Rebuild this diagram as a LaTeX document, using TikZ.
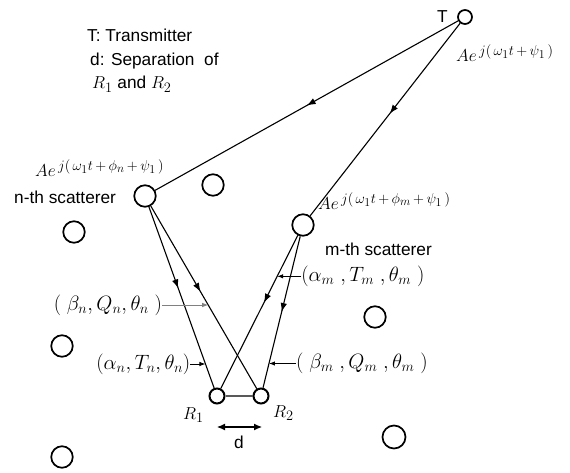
\documentclass[tikz,border=0pt]{standalone}
\usepackage{fontspec}
\setmainfont{Liberation Sans}
\usetikzlibrary{arrows.meta, decorations.markings, calc}
\DeclareMathSizes{17.28}{17.28}{14.4}{12}
\DeclareMathSizes{20.74}{20.74}{14.4}{12}

\begin{document}
\begin{tikzpicture}[x=1pt, y=-1pt,
  scat/.style={circle, draw, line width=1.7pt, inner sep=0pt, minimum size=#1},
  scat/.default=21.5pt,
  ray/.style={line width=1.1pt},
  midarrow/.style={postaction={decorate}, decoration={markings,
      mark=at position #1 with {\arrow{Latex[length=9pt, width=6.5pt]}}}},
  pointer/.style={line width=0.9pt, -{Latex[length=6pt, width=4.5pt]}},
  txt/.style={inner sep=0pt, anchor=base west, font=\LARGE},
  tri/.style={inner sep=0pt, font=\huge}]
  \useasboundingbox (0,0) rectangle (570,473);

  % transmitter, scatterers, receivers
  \node[scat=14pt] (tx) at (465,17) {};
  \node[scat] (sn) at (145,196) {};
  \node[scat] (sm) at (303,225) {};
  \node[scat=15pt, line width=2pt] (rx1) at (217,396) {};
  \node[scat=15pt, line width=2pt] (rx2) at (261,396) {};
  \node[scat] (s1) at (213,185) {};
  \node[scat] (s2) at (74,232) {};
  \node[scat] (s3) at (62,346) {};
  \node[scat] (s4) at (375,317) {};
  \node[scat=23pt] (s5) at (394,437) {};
  \node[scat] (s6) at (62,457) {};

  % rays
  \draw[ray, midarrow=0.5] (tx) -- (sn);
  \draw[ray, midarrow=0.47] (tx) -- (sm);
  \draw[ray, midarrow=0.45] (sn) -- (rx1);
  \draw[ray, midarrow=0.47] (sn) -- (rx2);
  \draw[ray, midarrow=0.44] (sm) -- (rx1);
  \draw[ray, midarrow=0.5] (sm) -- (rx2);
  \draw[line width=1.6pt, gray!70!black] (rx1) -- (rx2);

  % texts
  \node[txt] (tlab) at (437,23) {T};
  \node[txt] (txsig) at (456,62) {$Ae^{\,j(\,\omega_1 t\,+\,\psi_1\,)}$};
  \node[txt] (snsig) at (35,177) {$Ae^{\,j(\,\omega_1 t\,+\,\phi_n\,+\,\psi_1\,)}$};
  \node[txt] (snlab) at (14,204) {n-th scatterer};
  \node[txt] (smsig) at (318,210) {$Ae^{\,j(\,\omega_1 t\,+\,\phi_m\,+\,\psi_1\,)}$};
  \node[txt] (smlab) at (325,255) {m-th scatterer};
  \node[txt] (key1) at (87,42) {T: Transmitter};
  \node[txt] (key2) at (90,66) {d: Separation\ \ of};
  \node[txt] (key3) at (92,89) {$R_1$ and\ $R_2$};
  \node[txt] (r1lab) at (183,419) {$R_1$};
  \node[txt] (r2lab) at (273,417) {$R_2$};

  % path parameters
  \coordinate (pbn) at ($(sn)!0.545!(rx2)$);
  \coordinate (pan) at ($(sn)!0.84!(rx1)$);
  \coordinate (pam) at ($(sm)!0.30!(rx1)$);
  \coordinate (pbm) at ($(sm)!0.81!(rx2)$);
  \node[tri, anchor=east] (lbn) at ($(pbn)+(-46,0)$) {$(\;\beta_n,Q_n,\theta_n\;)$};
  \node[tri, anchor=east] (lan) at ($(pan)+(-15,0)$) {$(\alpha_n,T_n,\theta_n)$};
  \node[tri, anchor=west] (lam) at ($(pam)+(24,0)$) {$(\alpha_m\;,T_m\;,\theta_m\;)$};
  \node[tri, anchor=west] (lbm) at ($(pbm)+(27,0)$) {$(\;\beta_m\;,Q_m\;,\theta_m\;)$};
  \draw[pointer, gray] (lbn.east) -- (pbn);
  \draw[pointer] (lan.east) -- (pan);
  \draw[pointer] (lam.west) -- (pam);
  \draw[pointer] (lbm.west) -- (pbm);

  % separation d
  \coordinate (dl) at (217,427);
  \coordinate (dr) at (262,427);
  \draw[line width=1.1pt, {Latex[length=8pt, width=7pt]}-{Latex[length=8pt, width=7pt]}] (dl) -- (dr);
  \node[font=\LARGE, inner sep=0pt, anchor=base] (dlab) at (239,448) {d};
\end{tikzpicture}
\end{document}
